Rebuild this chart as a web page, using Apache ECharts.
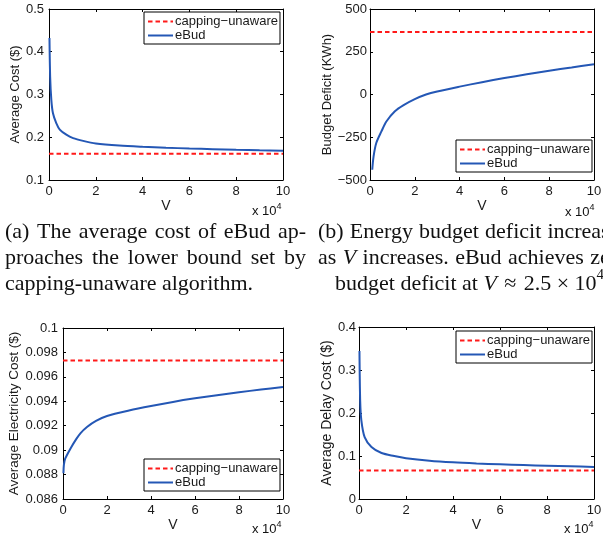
<!DOCTYPE html>
<html><head><meta charset="utf-8">
<script src="https://cdn.jsdelivr.net/npm/echarts@6/dist/echarts.min.js"></script>
<style>html,body{margin:0;padding:0;background:#fff}#c{width:603px;height:533px}</style>
</head><body><div id="c"></div>
<script>
// ---- data (V in units of 10^4) ----
const vCost = [0.02,0.05,0.1,0.17,0.31,0.46,0.74,1.03,1.46,2,3,4,5,6,7,8,9,10];
const costEBud = [0.432,0.34,0.287,0.256,0.233,0.218,0.206,0.198,0.1915,0.1855,0.1806,0.1777,0.1755,0.1737,0.1722,0.1709,0.1697,0.1686];
const costCapping = 0.1613;

const vDeficit = [0.1,0.16,0.28,0.51,0.73,1.1,1.5,2,2.5,3,4,5,6,7,8,9,10];
const deficitEBud = [-440,-362,-284,-216,-158,-99,-62,-27,0,18,46,72,96,118,139,158,177];
const deficitCapping = 366;

const vElec = [0.02,0.04,0.1,0.33,0.6,0.8,1.09,1.5,2,3,4,5,6,7,8,9,10];
const elecEBud = [0.0881,0.0888,0.0893,0.0901,0.0909,0.0914,0.0919,0.0924,0.0928,0.09325,0.09362,0.09395,0.09424,0.0945,0.09474,0.09496,0.09516];
const elecCapping = 0.09733;

const vDelay = [0.02,0.05,0.1,0.24,0.53,0.96,1.5,2,3,4,5,6,7,8,9,10];
const delayEBud = [0.344,0.229,0.183,0.144,0.121,0.107,0.1,0.095,0.089,0.0852,0.0826,0.0806,0.0789,0.0774,0.076,0.0746];
const delayCapping = 0.066;

const xTicks = [0,2,4,6,8,10];
const seriesNames = ['capping\u2212unaware','eBud'];
const yNames = ['Average Cost ($)','Budget Deficit (KWh)','Average Electricity Cost ($)','Average Delay Cost ($)'];
const captionA = ['(a) The average cost of eBud ap-','proaches the lower bound set by','capping-unaware algorithm.'];
const captionB = ['(b) Energy budget deficit increases','as *V* increases. eBud achieves zero','budget deficit at *V* \u200a\u2248\u200a 2.5 \u00d7 10^4.'];

// ---- layout / style ----
const SANS = '"Liberation Sans", Arial, Helvetica, sans-serif';
const SERIF = '"Liberation Serif", "Times New Roman", serif';
const TXT = '#1a1a1a';
const RED = '#ff1a1a';
const BLUE = '#2457b5';

const panels = [
  {v:vCost, y:costEBud, cap:costCapping, min:0.1, max:0.5, step:0.1, grid:{left:49,top:9,width:234,height:171}, nameGap:25, nameSize:13, lm:5, legend:{left:144,top:12}},
  {v:vDeficit, y:deficitEBud, cap:deficitCapping, min:-500, max:500, step:250, grid:{left:370,top:9,width:224,height:171}, nameGap:35, nameSize:13, lm:3, legend:{left:456,top:140}},
  {v:vElec, y:elecEBud, cap:elecCapping, min:0.086, max:0.1, step:0.002, grid:{left:63,top:328,width:220,height:171}, nameGap:38.5, nameSize:13.5, lm:5, legend:{left:144,top:459}},
  {v:vDelay, y:delayEBud, cap:delayCapping, min:0, max:0.4, step:0.1, grid:{left:359,top:327,width:235,height:172}, nameGap:23.5, nameSize:14, lm:3, legend:{left:456,top:331}}
];

function fmtY(v){
  const s = String(+v.toFixed(4));
  return s.replace('-', '\u2212');
}

const grids = [], xAxes = [], yAxes = [], series = [], legends = [];
const tick = {inside:true, length:3, lineStyle:{color:'#000', width:1}};
const line = {show:true, onZero:false, lineStyle:{color:'#000', width:1}};
panels.forEach((p, i) => {
  grids.push(Object.assign({outerBoundsMode:'none', containLabel:false, show:false}, p.grid));
  xAxes.push({type:'value', gridIndex:i, min:0, max:10, interval:2, position:'bottom',
    axisLine:line, axisTick:tick, splitLine:{show:false},
    axisLabel:{color:TXT, fontFamily:SANS, fontSize:13, margin:5, showMinLabel:true, showMaxLabel:true},
    name:'V', nameLocation:'middle', nameGap:14, nameTextStyle:{color:TXT, fontFamily:SANS, fontSize:14}});
  xAxes.push({type:'value', gridIndex:i, min:0, max:10, interval:2, position:'top',
    axisLine:line, axisTick:tick, splitLine:{show:false}, axisLabel:{show:false}});
  yAxes.push({type:'value', gridIndex:i, min:p.min, max:p.max, interval:p.step, position:'left',
    axisLine:line, axisTick:tick, splitLine:{show:false},
    axisLabel:{color:TXT, fontFamily:SANS, fontSize:13, margin:p.lm, formatter:fmtY, showMinLabel:true, showMaxLabel:true},
    name:yNames[i], nameLocation:'middle', nameGap:p.nameGap, nameTextStyle:{color:TXT, fontFamily:SANS, fontSize:p.nameSize}});
  yAxes.push({type:'value', gridIndex:i, min:p.min, max:p.max, interval:p.step, position:'right',
    axisLine:line, axisTick:tick, splitLine:{show:false}, axisLabel:{show:false}});
  series.push({type:'line', name:seriesNames[0], xAxisIndex:2*i, yAxisIndex:2*i, symbol:'none',
    data:[[xTicks[0], p.cap],[xTicks[xTicks.length-1], p.cap]],
    lineStyle:{color:RED, width:2, type:[4.5,3]}, itemStyle:{color:RED}, z:3});
  series.push({type:'line', name:seriesNames[1], xAxisIndex:2*i, yAxisIndex:2*i, symbol:'none',
    smooth:0.3,
    data:p.v.map((x,k)=>[x,p.y[k]]),
    lineStyle:{color:BLUE, width:2}, itemStyle:{color:BLUE}, z:4});
  legends.push(Object.assign({orient:'vertical', data:seriesNames, selectedMode:false,
    backgroundColor:'#fff', borderColor:'#000', borderWidth:1, borderRadius:0,
    padding:[3,2,2,3], itemGap:1, itemWidth:25, itemHeight:14,
    itemStyle:{opacity:0, borderWidth:0},
    textStyle:{color:TXT, fontFamily:SANS, fontSize:13, padding:[0,0,0,-3]}}, p.legend));
});

// ---- caption & exponent text via graphic ----
const mctx = document.createElement('canvas').getContext('2d');
function parseWord(w){
  const segs = [];
  const re = /\*([^*]+)\*|\^(.)|([^*^]+)/g; let m;
  while((m = re.exec(w))){
    if(m[1]) segs.push({t:m[1], k:'i'}); else if(m[2]) segs.push({t:m[2], k:'sup'}); else segs.push({t:m[3], k:'n'});
  }
  return segs;
}
function fontOf(k, size, fam){
  if(k==='i') return 'italic ' + size + 'px ' + fam;
  if(k==='sup') return Math.round(size*0.7) + 'px ' + fam;
  return size + 'px ' + fam;
}
function layoutLine(text, x0, x1, baseline, size, fam, out){
  const words = text.split(' ').map(parseWord);
  mctx.font = size + 'px ' + fam;
  const sp = mctx.measureText(' ').width;
  const widths = words.map(segs => segs.reduce((s,g)=>{ mctx.font = fontOf(g.k,size,fam); g.w = mctx.measureText(g.t).width; return s+g.w; },0));
  const total = widths.reduce((a,b)=>a+b,0);
  const gap = (x1 != null && words.length>1) ? (x1-x0-total)/(words.length-1) : sp;
  let x = x0;
  words.forEach((segs, wi) => {
    segs.forEach(g => {
      const raise = g.k==='sup' ? size*0.38 : 0;
      out.push({type:'text', x:x, y:baseline - raise - 0.3*size, silent:true,
        style:{text:g.t, font:fontOf(g.k,size,fam), fill:'#111', align:'left', verticalAlign:'middle', textAlign:'left', textVerticalAlign:'middle'}});
      x += g.w;
    });
    x += gap;
  });
}
const graphics = [];
const capSize = 22;
const baselines = [238.5, 264.5, 290.5];
layoutLine(captionA[0], 5, 306, baselines[0], capSize, SERIF, graphics);
layoutLine(captionA[1], 5, 306, baselines[1], capSize, SERIF, graphics);
layoutLine(captionA[2], 5, null, baselines[2], capSize, SERIF, graphics);
layoutLine(captionB[0], 318, 628, baselines[0], capSize, SERIF, graphics);
layoutLine(captionB[1], 318, 628, baselines[1], capSize, SERIF, graphics);
layoutLine(captionB[2], 335, null, baselines[2], capSize, SERIF, graphics);
// "x 10^4" exponent labels
[[252,215],[565,216],[252,533],[564,533]].forEach(([x,b]) => layoutLine('x 10^4', x, null, b, 13, SANS, graphics));

const chart = echarts.init(document.getElementById('c'), null, {renderer:'canvas'});
chart.setOption({
  animation:false,
  backgroundColor:'#fff',
  grid:grids, xAxis:xAxes, yAxis:yAxes, series:series, legend:legends,
  graphic:{elements:graphics}
});
</script></body></html>
